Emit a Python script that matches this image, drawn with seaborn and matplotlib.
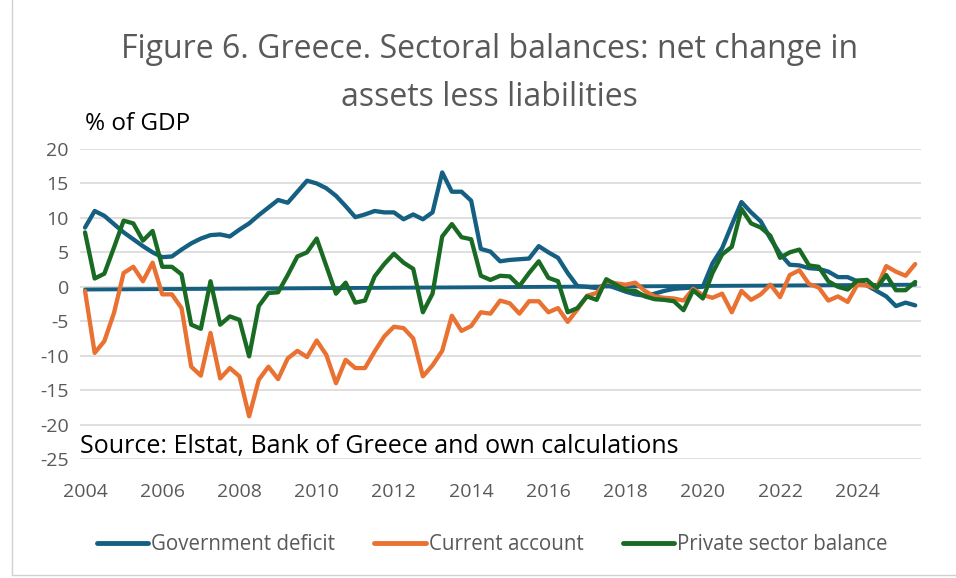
import numpy as np
import pandas as pd
import matplotlib
matplotlib.use("Agg")
import matplotlib.pyplot as plt
from matplotlib.lines import Line2D
import seaborn as sns

# ---------------- data (quarterly, 2004Q1 - 2025Q3) ----------------
n_quarters = 87
tick_years = ["2004", "2006", "2008", "2010", "2012", "2014",
              "2016", "2018", "2020", "2022", "2024"]

government_deficit = [
    8.6, 11.0, 10.3, 9.1, 7.9, 6.9, 5.9, 5.0, 4.3, 4.4, 5.4, 6.3, 7.0, 7.5, 7.6, 7.3,
    8.3, 9.2, 10.4, 11.5, 12.6, 12.2, 13.8, 15.4, 15.0, 14.3, 13.2, 11.7, 10.1, 10.5, 11.0, 10.8,
    10.8, 9.8, 10.5, 9.8, 10.8, 16.6, 13.8, 13.8, 12.5, 5.5, 5.1, 3.7, 3.9, 4.0, 4.1, 5.9,
    5.0, 4.2, 2.0, 0.1, 0.0, -0.2, 0.3, -0.2, -0.7, -1.1, -1.3, -1.0, -0.6, -0.3, -0.2, -0.1,
    0.0, 3.4, 5.6, 9.0, 12.3, 10.8, 9.5, 7.0, 4.8, 3.2, 3.1, 2.7, 2.6, 2.2, 1.4, 1.4,
    0.8, 0.2, -0.6, -1.4, -2.8, -2.3, -2.7]

current_account = [
    -0.6, -9.6, -7.9, -3.8, 2.0, 2.9, 0.8, 3.5, -1.1, -1.1, -3.1, -11.6, -12.9, -6.7, -13.3, -11.8,
    -13.0, -18.8, -13.5, -11.6, -13.4, -10.4, -9.3, -10.2, -7.8, -9.9, -14.0, -10.6, -11.8, -11.8, -9.4, -7.2,
    -5.8, -6.0, -7.5, -13.0, -11.4, -9.3, -4.2, -6.4, -5.7, -3.7, -3.9, -2.0, -2.4, -3.9, -2.1, -2.1,
    -3.7, -3.1, -5.1, -3.3, -1.3, -0.9, 0.8, 0.5, 0.3, 0.6, -0.6, -1.4, -1.6, -1.7, -2.0, -0.3,
    -1.2, -1.6, -1.0, -3.7, -0.6, -1.9, -1.1, 0.3, -1.5, 1.7, 2.4, 0.4, -0.1, -2.0, -1.4, -2.2,
    0.3, 0.2, -0.2, 3.0, 2.2, 1.6, 3.3]

private_balance = [
    7.9, 1.2, 1.9, 5.7, 9.6, 9.2, 6.7, 8.1, 2.9, 2.9, 1.8, -5.5, -6.1, 0.8, -5.5, -4.3,
    -4.8, -10.1, -2.8, -0.9, -0.8, 1.7, 4.4, 5.0, 7.0, 3.0, -1.0, 0.6, -2.3, -2.0, 1.5, 3.3,
    4.8, 3.5, 2.6, -3.7, -1.0, 7.3, 9.1, 7.2, 6.9, 1.6, 1.0, 1.6, 1.5, 0.1, 2.0, 3.7,
    1.3, 0.8, -3.7, -3.1, -1.4, -1.9, 1.1, 0.3, -0.5, -0.6, -1.4, -1.8, -1.9, -2.1, -3.4, -0.5,
    -1.7, 2.0, 4.7, 5.8, 11.3, 9.2, 8.6, 7.4, 4.2, 5.0, 5.4, 3.1, 2.9, 0.8, 0.0, -0.4,
    0.9, 1.0, -0.2, 1.7, -0.5, -0.5, 0.7]

# straight reference line (drawn in the chart, no legend entry)
ref_line_values = [-0.4, 0.3]

series_names = ["Government deficit", "Current account", "Private sector balance"]
colors = ["#156082", "#E97132", "#196B24"]

# ---------------- build frame ----------------
q = np.arange(n_quarters)
df = pd.DataFrame({
    "q": np.tile(q, 3),
    "value": government_deficit + current_account + private_balance,
    "series": np.repeat(series_names, n_quarters),
})
ref_df = pd.DataFrame({"q": [0, n_quarters - 1], "value": ref_line_values})

# ---------------- figure ----------------
sns.set_theme(style="white")
plt.rcParams["font.family"] = ["Open Sans", "DejaVu Sans"]
plt.rcParams["axes.unicode_minus"] = False

fig = plt.figure(figsize=(9.56, 5.78), dpi=100)
ax = fig.add_axes([80 / 956, 1 - 459 / 578, 841 / 956, 310 / 578])

sns.lineplot(data=ref_df, x="q", y="value", ax=ax, color=colors[0],
             linewidth=2.8, legend=False, zorder=2)
sns.lineplot(data=df, x="q", y="value", hue="series", hue_order=series_names,
             palette=colors, linewidth=3.1, ax=ax, zorder=3, legend=False)

ax.set_xlim(-0.52, 86.6)
ax.set_ylim(-25, 20)
ax.set_yticks(np.arange(-25, 21, 5))
ax.set_xticks(np.arange(0, 8 * len(tick_years), 8))
ax.set_xticklabels(tick_years)
ax.set_xlabel("")
ax.set_ylabel("")
ax.grid(axis="y", color="#d9d9d9", linewidth=1.2)
ax.set_axisbelow(True)
for s in ax.spines.values():
    s.set_visible(False)
ax.tick_params(axis="both", length=0, colors="#595959", labelsize=14)
ax.tick_params(axis="x", pad=17)
ax.tick_params(axis="y", pad=8)

# source text inside plot
ax.text(0.0, 0.04, "Source: Elstat, Bank of Greece and own calculations",
        transform=ax.transAxes, ha="left", va="center", fontsize=18,
        color="#000000")

# titles
fig.text(0.512, 1 - 50 / 578, "Figure 6. Greece. Sectoral balances: net change in",
         ha="center", va="center", fontsize=23, color="#595959")
fig.text(0.512, 1 - 98 / 578, "assets less liabilities",
         ha="center", va="center", fontsize=23, color="#595959")
fig.text(85 / 956, 1 - 124 / 578, "% of GDP", ha="left", va="center",
         fontsize=17.5, color="#000000")

# legend
handles = [Line2D([0], [0], color=c, linewidth=3.5) for c in colors]
leg = fig.legend(handles, series_names, loc="center", bbox_to_anchor=(0.515, 1 - 545 / 578),
                 ncol=3, frameon=False, fontsize=14.8, handlelength=2.5,
                 handletextpad=0.15, columnspacing=1.9)
for t in leg.get_texts():
    t.set_color("#595959")

# light chart-area border (left and bottom visible)
fig.add_artist(Line2D([12 / 956, 12 / 956], [3 / 578, 1.0], transform=fig.transFigure,
                      color="#d0d0d0", linewidth=1.0))
fig.add_artist(Line2D([12 / 956, 1.0], [3 / 578, 3 / 578], transform=fig.transFigure,
                      color="#d0d0d0", linewidth=1.0))

fig.savefig("out.png", dpi=100)
